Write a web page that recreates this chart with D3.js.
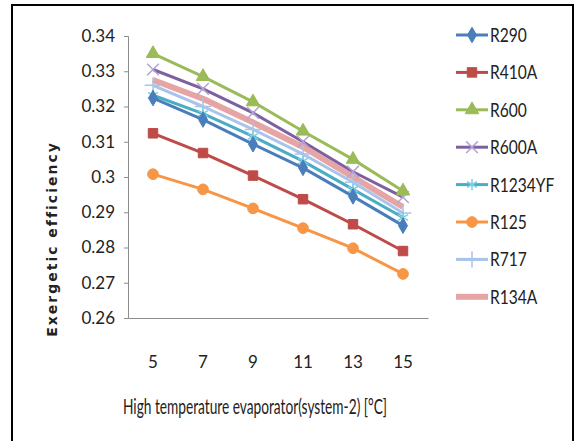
<!DOCTYPE html>
<html>
<head>
<meta charset="utf-8">
<script src="https://cdn.jsdelivr.net/npm/d3@7"></script>
<style>
  body { margin: 0; background: #fff; }
  text { font-family: Lato, "Open Sans", sans-serif; fill: #222; }
</style>
</head>
<body>
<div class="box"></div>
<script>
// Chart values
const temps = ["5", "7", "9", "11", "13", "15"];
const yTicks = [0.26, 0.27, 0.28, 0.29, 0.3, 0.31, 0.32, 0.33, 0.34];
const seriesNames = ["R290", "R410A", "R600", "R600A", "R1234YF", "R125", "R717", "R134A"];
const r290    = [0.3224, 0.3163, 0.3093, 0.3026, 0.2945, 0.2862];
const r410a   = [0.3124, 0.3068, 0.3004, 0.2937, 0.2866, 0.2790];
const r600    = [0.3350, 0.3285, 0.3213, 0.3130, 0.3050, 0.2960];
const r600a   = [0.3305, 0.3250, 0.3182, 0.3100, 0.3015, 0.2943];
const r1234yf = [0.3232, 0.3180, 0.3115, 0.3045, 0.2965, 0.2885];
const r125    = [0.3008, 0.2965, 0.2911, 0.2855, 0.2798, 0.2725];
const r717    = [0.3260, 0.3200, 0.3135, 0.3065, 0.2985, 0.2898];
const r134a   = [0.3275, 0.3222, 0.3155, 0.3085, 0.3000, 0.2915];

const w = 577;
const h = 441;

// style per series: colour, marker, line width
const styles = [
    {color: "#4a7ebb", mcolor: "#4a7ebb", sym: d3.symbolDiamond, size: 70, stroke: false, lw: 3},
    {color: "#be4b48", mcolor: "#be4b48", sym: d3.symbolSquare, size: 90, stroke: false, lw: 3},
    {color: "#9bbb59", mcolor: "#9bbb59", sym: d3.symbolTriangle, size: 80, stroke: false, lw: 3},
    {color: "#7d60a0", mcolor: "#b4a2d0", sym: d3.symbolX, size: 90, stroke: true, lw: 3},
    {color: "#4bacc6", mcolor: "#7ccfe0", sym: d3.symbolAsterisk, size: 90, stroke: true, lw: 3},
    {color: "#f79646", mcolor: "#f79646", sym: d3.symbolCircle, size: 90, stroke: false, lw: 3},
    {color: "#a9c4eb", mcolor: "#a9c4eb", sym: d3.symbolPlus, size: 90, stroke: true, lw: 3},
    {color: "#e6a5a4", mcolor: "#e6a5a4", sym: null, size: 0, stroke: false, lw: 6}
];
const values = [r290, r410a, r600, r600a, r1234yf, r125, r717, r134a];

const svg = d3.select(".box")
    .append("svg")
    .attr("width", w)
    .attr("height", h);

// outer frame (bottom edge falls outside the picture)
svg.append("rect")
    .attr("x", 12).attr("y", 5)
    .attr("width", 561).attr("height", 445)
    .attr("fill", "none")
    .attr("stroke", "#000")
    .attr("stroke-width", 2);

// Scales
const xScale = d3.scaleBand()
    .domain(temps)
    .range([128, 428]);
const xPos = (d) => xScale(d) + xScale.bandwidth() / 2;

const yScale = d3.scaleLinear()
    .domain([0.26, 0.34])
    .range([318, 36]);

// Axes
const yAxis = d3.axisLeft(yScale)
    .tickValues(yTicks)
    .tickFormat(d3.format("~g"))
    .tickSize(4)
    .tickPadding(9);

const gy = svg.append("g")
    .attr("transform", "translate(128,0)")
    .call(yAxis);
gy.select(".domain").attr("stroke", "#8c8c8c");
gy.selectAll(".tick line").attr("stroke", "#8c8c8c");
gy.selectAll(".tick text")
    .style("font-family", "Lato, sans-serif")
    .style("font-size", "17px")
    .attr("fill", "#222");

const xAxis = d3.axisBottom(xScale)
    .tickSize(0)
    .tickPadding(38);

const gx = svg.append("g")
    .attr("transform", "translate(0,318)")
    .call(xAxis);
gx.select(".domain").attr("stroke", "#8c8c8c");
gx.selectAll(".tick text")
    .style("font-family", "Lato, sans-serif")
    .style("font-size", "17px")
    .attr("fill", "#222");

// Lines
const line = d3.line()
    .x((d, i) => xPos(temps[i]))
    .y((d) => yScale(d));

// draw from the last legend entry upward so R290 etc sit on top like the original
const order = [7, 6, 5, 4, 3, 2, 1, 0];
order.forEach((k) => {
    const st = styles[k];
    svg.append("path")
        .datum(values[k])
        .attr("d", line)
        .attr("fill", "none")
        .attr("stroke", st.color)
        .attr("stroke-width", st.lw)
        .attr("stroke-linejoin", "round");

    if (st.sym) {
        svg.selectAll(".m" + k)
            .data(values[k])
            .enter()
            .append("path")
            .attr("class", "m" + k)
            .attr("transform", (d, i) => "translate(" + xPos(temps[i]) + "," + yScale(d) + ")")
            .attr("d", d3.symbol().type(st.sym).size(st.size))
            .attr("fill", st.stroke ? "none" : st.mcolor)
            .attr("stroke", st.mcolor)
            .attr("stroke-width", st.stroke ? 1.5 : 1);
    }
});

// Legend
const legend = svg.append("g");
seriesNames.forEach((name, k) => {
    const st = styles[k];
    const ly = 35 + k * 37.4;
    legend.append("line")
        .attr("x1", 456).attr("x2", 488)
        .attr("y1", ly).attr("y2", ly)
        .attr("stroke", st.color)
        .attr("stroke-width", st.lw);
    if (st.sym) {
        legend.append("path")
            .attr("transform", "translate(472," + ly + ")")
            .attr("d", d3.symbol().type(st.sym).size(st.size))
            .attr("fill", st.stroke ? "none" : st.mcolor)
            .attr("stroke", st.mcolor)
            .attr("stroke-width", st.stroke ? 1.5 : 1);
    }
    // narrower glyphs, closer to the original Calibri look
    legend.append("text")
        .attr("transform", "translate(490," + (ly + 7) + ") scale(0.82,1)")
        .style("font-size", "19px")
        .text(name);
});

// Axis titles
svg.append("text")
    .attr("transform", "rotate(-90)")
    .attr("x", -239)
    .attr("y", 57)
    .attr("text-anchor", "middle")
    .style("font-family", "'DejaVu Sans', sans-serif")
    .style("font-weight", "bold")
    .style("font-size", "14px")
    .style("letter-spacing", "2px")
    .text("Exergetic efficiency");

svg.append("text")
    .attr("x", 123)
    .attr("y", 414)
    .attr("textLength", 264)
    .attr("lengthAdjust", "spacingAndGlyphs")
    .style("font-size", "21px")
    .text("High temperature evaporator(system-2) [°C]");
</script>
</body>
</html>
